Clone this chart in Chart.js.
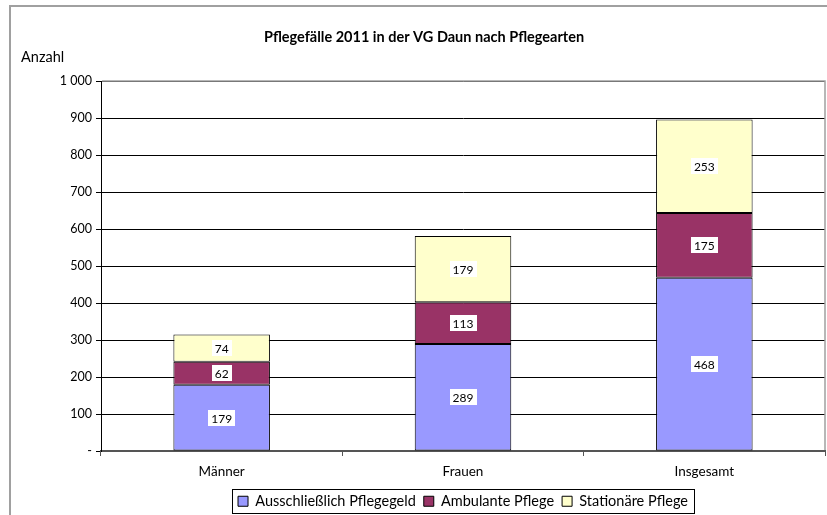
<!DOCTYPE html>
<html>
<head>
<meta charset="utf-8">
<script src="https://cdn.jsdelivr.net/npm/chart.js@4"></script>
<style>
  html, body { margin: 0; padding: 0; background: #fff; }
  #wrap { width: 827px; height: 515px; }
</style>
</head>
<body>
<div id="wrap"><canvas id="chart" width="827" height="515"></canvas></div>
<script>
const CATEGORIES = ['Männer', 'Frauen', 'Insgesamt'];
const PFLEGEGELD = [179, 289, 468];
const AMBULANT = [62, 113, 175];
const STATIONAER = [74, 179, 253];
const Y_TICKS = [0, 100, 200, 300, 400, 500, 600, 700, 800, 900, 1000];

const FONT = 'Lato, "Open Sans", sans-serif';
const LEGEND_FONT_SIZE = 14.5;
const LEGEND_PADDING = 8;

// frame of the whole chart, plot border, "Anzahl", value boxes, legend frame
const excelLook = {
  id: 'excelLook',
  afterLayout(chart) {
    // title sits in the middle of the frame, legend in the middle of the plot
    const t = chart.titleBlock;
    if (t) { t.left = 10; t.right = 838; }
    const lg = chart.legend;
    if (lg) {
      lg.left = chart.chartArea.left;
      lg.right = chart.chartArea.right;
    }
  },
  beforeDraw(chart) {
    const ctx = chart.ctx;
    ctx.save();
    ctx.strokeStyle = '#a0a0a0';
    ctx.lineWidth = 2;
    ctx.strokeRect(10, 6, 900, 600);
    ctx.restore();
  },
  afterDatasetsDraw(chart) {
    const ctx = chart.ctx;
    ctx.save();
    ctx.font = '12px ' + FONT;
    ctx.textAlign = 'center';
    ctx.textBaseline = 'middle';
    chart.data.datasets.forEach((ds, i) => {
      const meta = chart.getDatasetMeta(i);
      meta.data.forEach((bar, j) => {
        const text = String(ds.data[j]);
        const y = (bar.y + bar.base) / 2;
        const w = ctx.measureText(text).width + 6;
        ctx.fillStyle = '#fff';
        ctx.fillRect(Math.round(bar.x - w / 2), Math.round(y - 8), Math.round(w), 16);
        ctx.fillStyle = '#000';
        ctx.fillText(text, bar.x, y + 1);
      });
    });
    ctx.restore();
  },
  afterDraw(chart) {
    const ctx = chart.ctx;
    const a = chart.chartArea;
    ctx.save();
    ctx.strokeStyle = '#a0a0a0';
    ctx.lineWidth = 1.5;
    ctx.beginPath();
    ctx.moveTo(a.left + 1, a.top);
    ctx.lineTo(a.right, a.top);
    ctx.lineTo(a.right, a.bottom - 1);
    ctx.stroke();

    ctx.fillStyle = '#000';
    ctx.font = '14.5px ' + FONT;
    ctx.textAlign = 'left';
    ctx.textBaseline = 'middle';
    ctx.fillText('Anzahl', 21, 57);

    // box round the legend row
    const lg = chart.legend;
    if (lg && lg.lineWidths && lg.lineWidths.length) {
      const rowW = lg.lineWidths[0];
      const startX = (lg.left + LEGEND_PADDING + lg.right - rowW) / 2;
      const left = startX - 6;
      const right = startX + rowW - LEGEND_PADDING + 6;
      const top = lg.top + LEGEND_PADDING - 5;
      const bottom = lg.top + LEGEND_PADDING + LEGEND_FONT_SIZE + 4;
      ctx.strokeStyle = '#000';
      ctx.lineWidth = 1;
      ctx.strokeRect(Math.round(left) + 0.5, Math.round(top) + 0.5, Math.round(right - left), Math.round(bottom - top));
    }
    ctx.restore();
  }
};

new Chart(document.getElementById('chart'), {
  type: 'bar',
  data: {
    labels: CATEGORIES,
    datasets: [
      { label: 'Ausschließlich Pflegegeld', data: PFLEGEGELD, backgroundColor: '#9999FF' },
      { label: 'Ambulante Pflege', data: AMBULANT, backgroundColor: '#993366' },
      { label: 'Stationäre Pflege', data: STATIONAER, backgroundColor: '#FFFFCC' }
    ].map(ds => Object.assign(ds, {
      borderColor: '#000',
      borderWidth: 1,
      borderSkipped: false,
      categoryPercentage: 1,
      barPercentage: 0.4
    }))
  },
  options: {
    responsive: false,
    animation: false,
    events: [],
    layout: { padding: { left: 22, right: 2, top: 0, bottom: 0 } },
    plugins: {
      title: {
        display: true,
        text: 'Pflegefälle 2011 in der VG Daun nach Pflegearten',
        color: '#000',
        font: { family: FONT, size: 14.5, weight: 'bold' },
        padding: { top: 28.3, bottom: 35.3 }
      },
      legend: {
        position: 'bottom',
        maxHeight: 29,
        labels: {
          color: '#000',
          font: { family: FONT, size: LEGEND_FONT_SIZE },
          boxWidth: 10,
          boxHeight: 10,
          padding: LEGEND_PADDING
        }
      },
      tooltip: { enabled: false }
    },
    scales: {
      x: {
        stacked: true,
        afterFit(scale) { scale.height = 35; },
        grid: {
          offset: true,
          drawOnChartArea: false,
          color: '#555',
          tickLength: 5
        },
        border: { color: '#555', width: 2 },
        ticks: {
          color: '#000',
          font: { family: FONT, size: 13.5 },
          padding: 8
        }
      },
      y: {
        stacked: true,
        min: 0,
        max: 1000,
        afterFit(scale) { scale.width = 79; },
        afterBuildTicks(scale) { scale.ticks = Y_TICKS.map(v => ({ value: v })); },
        grid: { color: '#000', lineWidth: 1, tickLength: 5 },
        border: { color: '#000', width: 1 },
        ticks: {
          color: '#000',
          font: { family: FONT, size: 12.5 },
          padding: 4,
          callback: v => v === 0 ? '-' : (v >= 1000 ? String(v).replace(/(\d)(?=(\d{3})+$)/g, '$1 ') : String(v))
        }
      }
    }
  },
  plugins: [excelLook]
});
</script>
</body>
</html>
